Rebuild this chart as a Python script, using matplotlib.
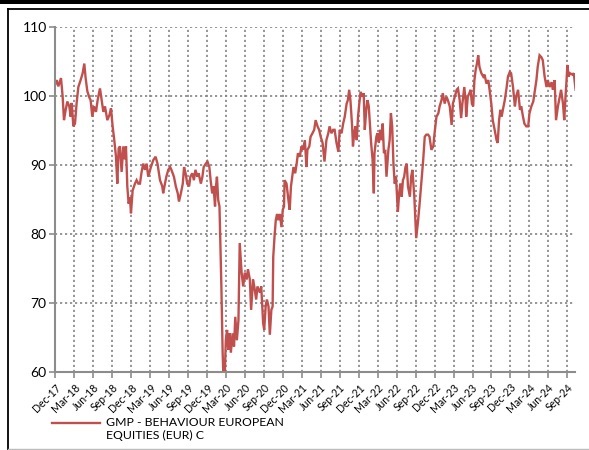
import matplotlib
matplotlib.use("Agg")
import matplotlib.pyplot as plt
from matplotlib.lines import Line2D
from matplotlib.patches import Rectangle

# Data: months since Dec-17, fund value
months = [
    0, 0.26, 0.53, 0.95, 1.21, 1.42, 1.69, 1.95, 2.26, 2.48, 2.64, 2.90, 3.16, 3.42, 3.69,
    4.05, 4.37, 4.63, 4.84, 5.11, 5.42, 5.63, 5.90, 6.16, 6.48, 6.74, 7.11, 7.37, 7.64,
    7.90, 8.27, 8.59, 8.85, 9.11, 9.37, 9.64, 9.85, 10.06, 10.27, 10.53, 10.80, 11.06,
    11.22, 11.43, 11.64, 11.85, 12.01, 12.27, 12.64, 12.90, 13.17, 13.43, 13.69, 13.95,
    14.22, 14.48, 14.74, 15.16, 15.53, 15.9, 16.2, 16.6, 16.96, 17.1, 17.38, 17.6, 17.9,
    18.2, 18.4, 18.8, 19.1, 19.4, 19.6, 19.9, 20.2, 20.4, 20.64, 20.9, 21.2, 21.4, 21.7,
    21.96, 22.2, 22.5, 22.7, 23.06, 23.3, 23.5, 23.85, 24.1, 24.4, 24.6, 24.85, 25.06,
    25.3, 25.4, 25.6, 25.8, 26.0, 26.1, 26.3, 26.5, 26.6, 26.7, 26.85, 27.0, 27.2, 27.4,
    27.6, 27.8, 28.07, 28.3, 28.5, 28.75, 29.0,
    29.2, 29.5, 29.75, 30.0, 30.3, 30.5, 30.8, 31.0, 31.3, 31.5, 31.8, 32.0, 32.4, 32.6,
    32.9, 33.07, 33.3, 33.5, 33.75, 33.96, 34.2, 34.4, 34.5, 34.7, 34.9, 35.1, 35.3,
    35.55, 35.8, 36.0, 36.2, 36.3, 36.6, 36.9, 37.1, 37.3, 37.5, 37.7, 37.97, 38.2, 38.4,
    38.7, 38.96, 39.2, 39.5, 39.75, 39.9, 40.2, 40.4, 40.7, 40.97, 41.2, 41.5, 41.75,
    42.0, 42.3, 42.6, 42.9, 43.2, 43.4, 43.7, 43.97,
    44.2, 44.5, 44.8, 45.0, 45.3, 45.55, 45.8, 46.1, 46.3, 46.5, 46.7, 46.97, 47.1, 47.3,
    47.5, 47.7, 47.9, 48.1, 48.3, 48.6, 48.8, 48.97, 49.2, 49.4, 49.6, 49.8, 49.97, 50.2,
    50.4, 50.5, 50.8, 50.97, 51.2, 51.4, 51.6, 51.8, 52.0, 52.2, 52.4, 52.7, 52.9, 53.1,
    53.3, 53.5, 53.7, 53.9, 54.2, 54.4, 54.6, 54.8, 55.0, 55.2, 55.4, 55.6, 55.8, 56.1,
    56.3, 56.5, 56.8, 56.97, 57.1, 57.4, 57.6, 57.9, 58.2, 58.45, 58.7, 58.98,
    59.2, 59.5, 59.8, 60.0, 60.3, 60.6, 60.8, 61.1, 61.3, 61.6, 61.87, 62.1, 62.4, 62.7,
    62.9, 63.2, 63.5, 63.7, 63.97, 64.2, 64.4, 64.7, 64.9, 65.0, 65.25, 65.5, 65.7, 65.9,
    66.1, 66.3, 66.5, 66.7, 66.9, 67.1, 67.4, 67.7, 67.9, 68.2, 68.5, 68.7, 68.97, 69.2,
    69.5, 69.8, 69.98, 70.2, 70.4, 70.6, 70.8, 71.1, 71.4, 71.6, 71.9, 72.1, 72.4, 72.7,
    72.9, 73.2, 73.5, 73.7, 73.98, 74.2, 74.5,
    74.8, 75.0, 75.3, 75.6, 75.8, 76.1, 76.3, 76.6, 76.9, 77.1, 77.4, 77.7, 77.9, 78.2,
    78.5, 78.7, 78.98, 79.2, 79.5, 79.8, 80.0, 80.3, 80.5, 80.7, 80.8, 81.0, 81.2, 81.4,
    81.8, 82.0, 82.3,
]
values = [
    101.6, 102.3, 101.4, 102.6, 99.9, 96.5, 98.0, 99.2, 98.5, 97.0, 99.0, 95.6, 96.0, 99.0, 101.3,
    102.3, 103.3, 104.7, 102.6, 100.7, 99.8, 99.4, 97.0, 98.5, 97.7, 99.4, 101.1, 99.4, 97.7,
    98.5, 96.5, 97.2, 98.2, 95.6, 93.6, 91.2, 87.3, 92.4, 92.7, 89.0, 92.7, 90.8,
    92.7, 86.9, 84.4, 85.3, 83.0, 86.3, 87.3, 87.8, 87.3, 87.3, 89.0, 90.2,
    89.3, 90.2, 88.3, 89.7, 90.7, 91.2, 90.2, 87.8, 86.9, 85.9, 87.3, 88.3, 89.3,
    89.7, 89.3, 88.3, 86.9, 85.9, 84.7, 85.9, 87.3, 89.7, 88.8, 87.3, 86.9, 88.3, 88.8,
    87.8, 89.3, 88.3, 88.8, 87.3, 88.3, 89.7, 90.2, 90.5, 89.7, 87.8, 85.9, 86.9,
    84.0, 86.4, 88.3, 84.9, 84.0, 80.1, 72.4, 62.8, 60.0, 61.7, 59.9, 64.6, 66.1, 63.2,
    65.6, 62.8, 65.6, 63.7, 68.0, 64.6, 67.5,
    78.7, 74.4, 72.4, 74.4, 73.4, 74.9, 73.4, 69.0, 73.4, 72.4, 70.5, 72.4, 71.5, 72.4,
    67.1, 66.1, 69.5, 70.5, 69.5, 65.4, 69.0, 69.5, 76.7, 79.6, 82.0, 82.9, 82.0,
    82.9, 81.0, 83.5, 84.0, 87.8, 87.3, 84.9, 83.5, 86.9, 88.3, 89.7, 88.8, 90.2, 91.7,
    91.2, 92.7, 92.2, 93.6, 89.7, 92.2, 92.7, 94.1, 94.6, 95.1, 96.5, 95.6, 95.1,
    94.1, 93.2, 90.5, 93.6, 94.6, 95.6, 94.6, 95.1,
    95.1, 93.2, 91.9, 95.1, 94.6, 96.0, 97.0, 98.9, 99.4, 100.9, 99.4, 95.6, 92.7, 94.6,
    95.6, 93.6, 97.0, 98.9, 100.6, 99.9, 100.4, 95.1, 98.0, 99.4, 98.5, 95.6, 93.2, 90.8,
    85.9, 91.7, 94.1, 94.6, 93.2, 95.1, 93.6, 96.0, 91.7, 92.2, 88.3, 92.2, 93.6, 97.5,
    95.6, 90.2, 87.3, 88.3, 83.2, 85.9, 87.3, 85.4, 87.8, 88.3, 89.7, 90.2, 86.9, 85.4,
    88.3, 89.3, 85.4, 82.0, 79.4, 82.0, 84.0, 87.3, 90.7, 94.1, 94.4, 94.4,
    94.1, 92.2, 92.7, 94.6, 97.0, 97.5, 98.5, 99.4, 100.4, 98.9, 99.9, 99.4, 98.5, 95.8,
    98.9, 99.9, 100.9, 101.1, 99.4, 96.8, 98.9, 101.3, 99.4, 97.0, 99.9, 100.4, 100.9, 98.9,
    98.5, 102.3, 103.8, 104.7, 105.9, 104.2, 103.3, 102.8, 103.1, 101.8, 102.3, 100.9, 98.9, 96.5,
    95.1, 93.6, 93.2, 96.5, 98.0, 97.0, 98.0, 99.4, 101.3, 102.8, 103.5, 103.3, 101.3, 98.5,
    99.9, 100.9, 98.0, 98.5, 97.0, 96.0, 95.6,
    95.6, 97.5, 98.5, 99.2, 100.4, 102.3, 104.2, 105.9, 105.6, 105.2, 102.8, 101.3, 102.3, 101.3,
    102.0, 100.9, 102.3, 96.5, 98.5, 99.9, 100.9, 98.9, 96.5, 99.9, 101.3, 104.5, 102.8, 103.3,
    103.1, 103.3, 100.9,
]

tick_labels = [
    "Dec-17", "Mar-18", "Jun-18", "Sep-18", "Dec-18", "Mar-19", "Jun-19", "Sep-19",
    "Dec-19", "Mar-20", "Jun-20", "Sep-20", "Dec-20", "Mar-21", "Jun-21", "Sep-21",
    "Dec-21", "Mar-22", "Jun-22", "Sep-22", "Dec-22", "Mar-23", "Jun-23", "Sep-23",
    "Dec-23", "Mar-24", "Jun-24", "Sep-24",
]
tick_pos = [3 * i for i in range(len(tick_labels))]
y_ticks = [60, 70, 80, 90, 100, 110]
series_name = "GMP - BEHAVIOUR EUROPEAN\nEQUITIES (EUR) C"

LINE_COLOR = "#C0504D"
GRID_COLOR = "#858585"

plt.rcParams["font.family"] = ["Lato", "DejaVu Sans"]

fig = plt.figure(figsize=(5.89, 4.5), dpi=100)
ax = fig.add_axes([55 / 589, 1 - 372 / 450, (575 - 55) / 589, (372 - 27) / 450])

ax.plot(months, values, color=LINE_COLOR, lw=1.7, solid_joinstyle="miter")

ax.set_xlim(0, 82.2)
ax.set_ylim(60, 110)
ax.set_yticks(y_ticks)
ax.set_yticklabels([str(v) for v in y_ticks], fontsize=10)
ax.set_xticks(tick_pos)
ax.set_xticklabels(tick_labels, rotation=45, ha="right", rotation_mode="anchor", fontsize=7.6)

ax.grid(True, color=GRID_COLOR, linestyle=(0, (1.3, 1.7)), linewidth=1.2)
ax.set_axisbelow(True)
for side in ["top", "right"]:
    ax.spines[side].set_visible(False)
for side in ["left", "bottom"]:
    ax.spines[side].set_color("#8C8C8C")
    ax.spines[side].set_linewidth(1.5)
ax.tick_params(axis="both", color="#8C8C8C", length=4, width=1.2, direction="out", pad=2)
ax.tick_params(axis="x", pad=3)

# legend drawn by hand: line sample + two-line label
fig.add_artist(Line2D([52 / 589, 100 / 589], [1 - 423 / 450, 1 - 423 / 450],
                      color=LINE_COLOR, lw=1.7))
fig.text(106 / 589, 1 - 416.5 / 450, series_name, fontsize=8.8, va="top", ha="left",
         linespacing=1.3)

# outer frame
fig.add_artist(Rectangle((0, 1 - 3.5 / 450), 1, 3.5 / 450, transform=fig.transFigure,
                         color="black", lw=0))
fig.add_artist(Line2D([7.5 / 589, 1], [1 - 8.5 / 450, 1 - 8.5 / 450], color="black", lw=1.3))
fig.add_artist(Line2D([7.5 / 589, 7.5 / 589], [0, 1 - 8.5 / 450], color="black", lw=1.3))
fig.add_artist(Line2D([7.5 / 589, 1], [1 - 448.5 / 450, 1 - 448.5 / 450], color="#BBBBBB", lw=1))

fig.savefig("out.png", dpi=100)
